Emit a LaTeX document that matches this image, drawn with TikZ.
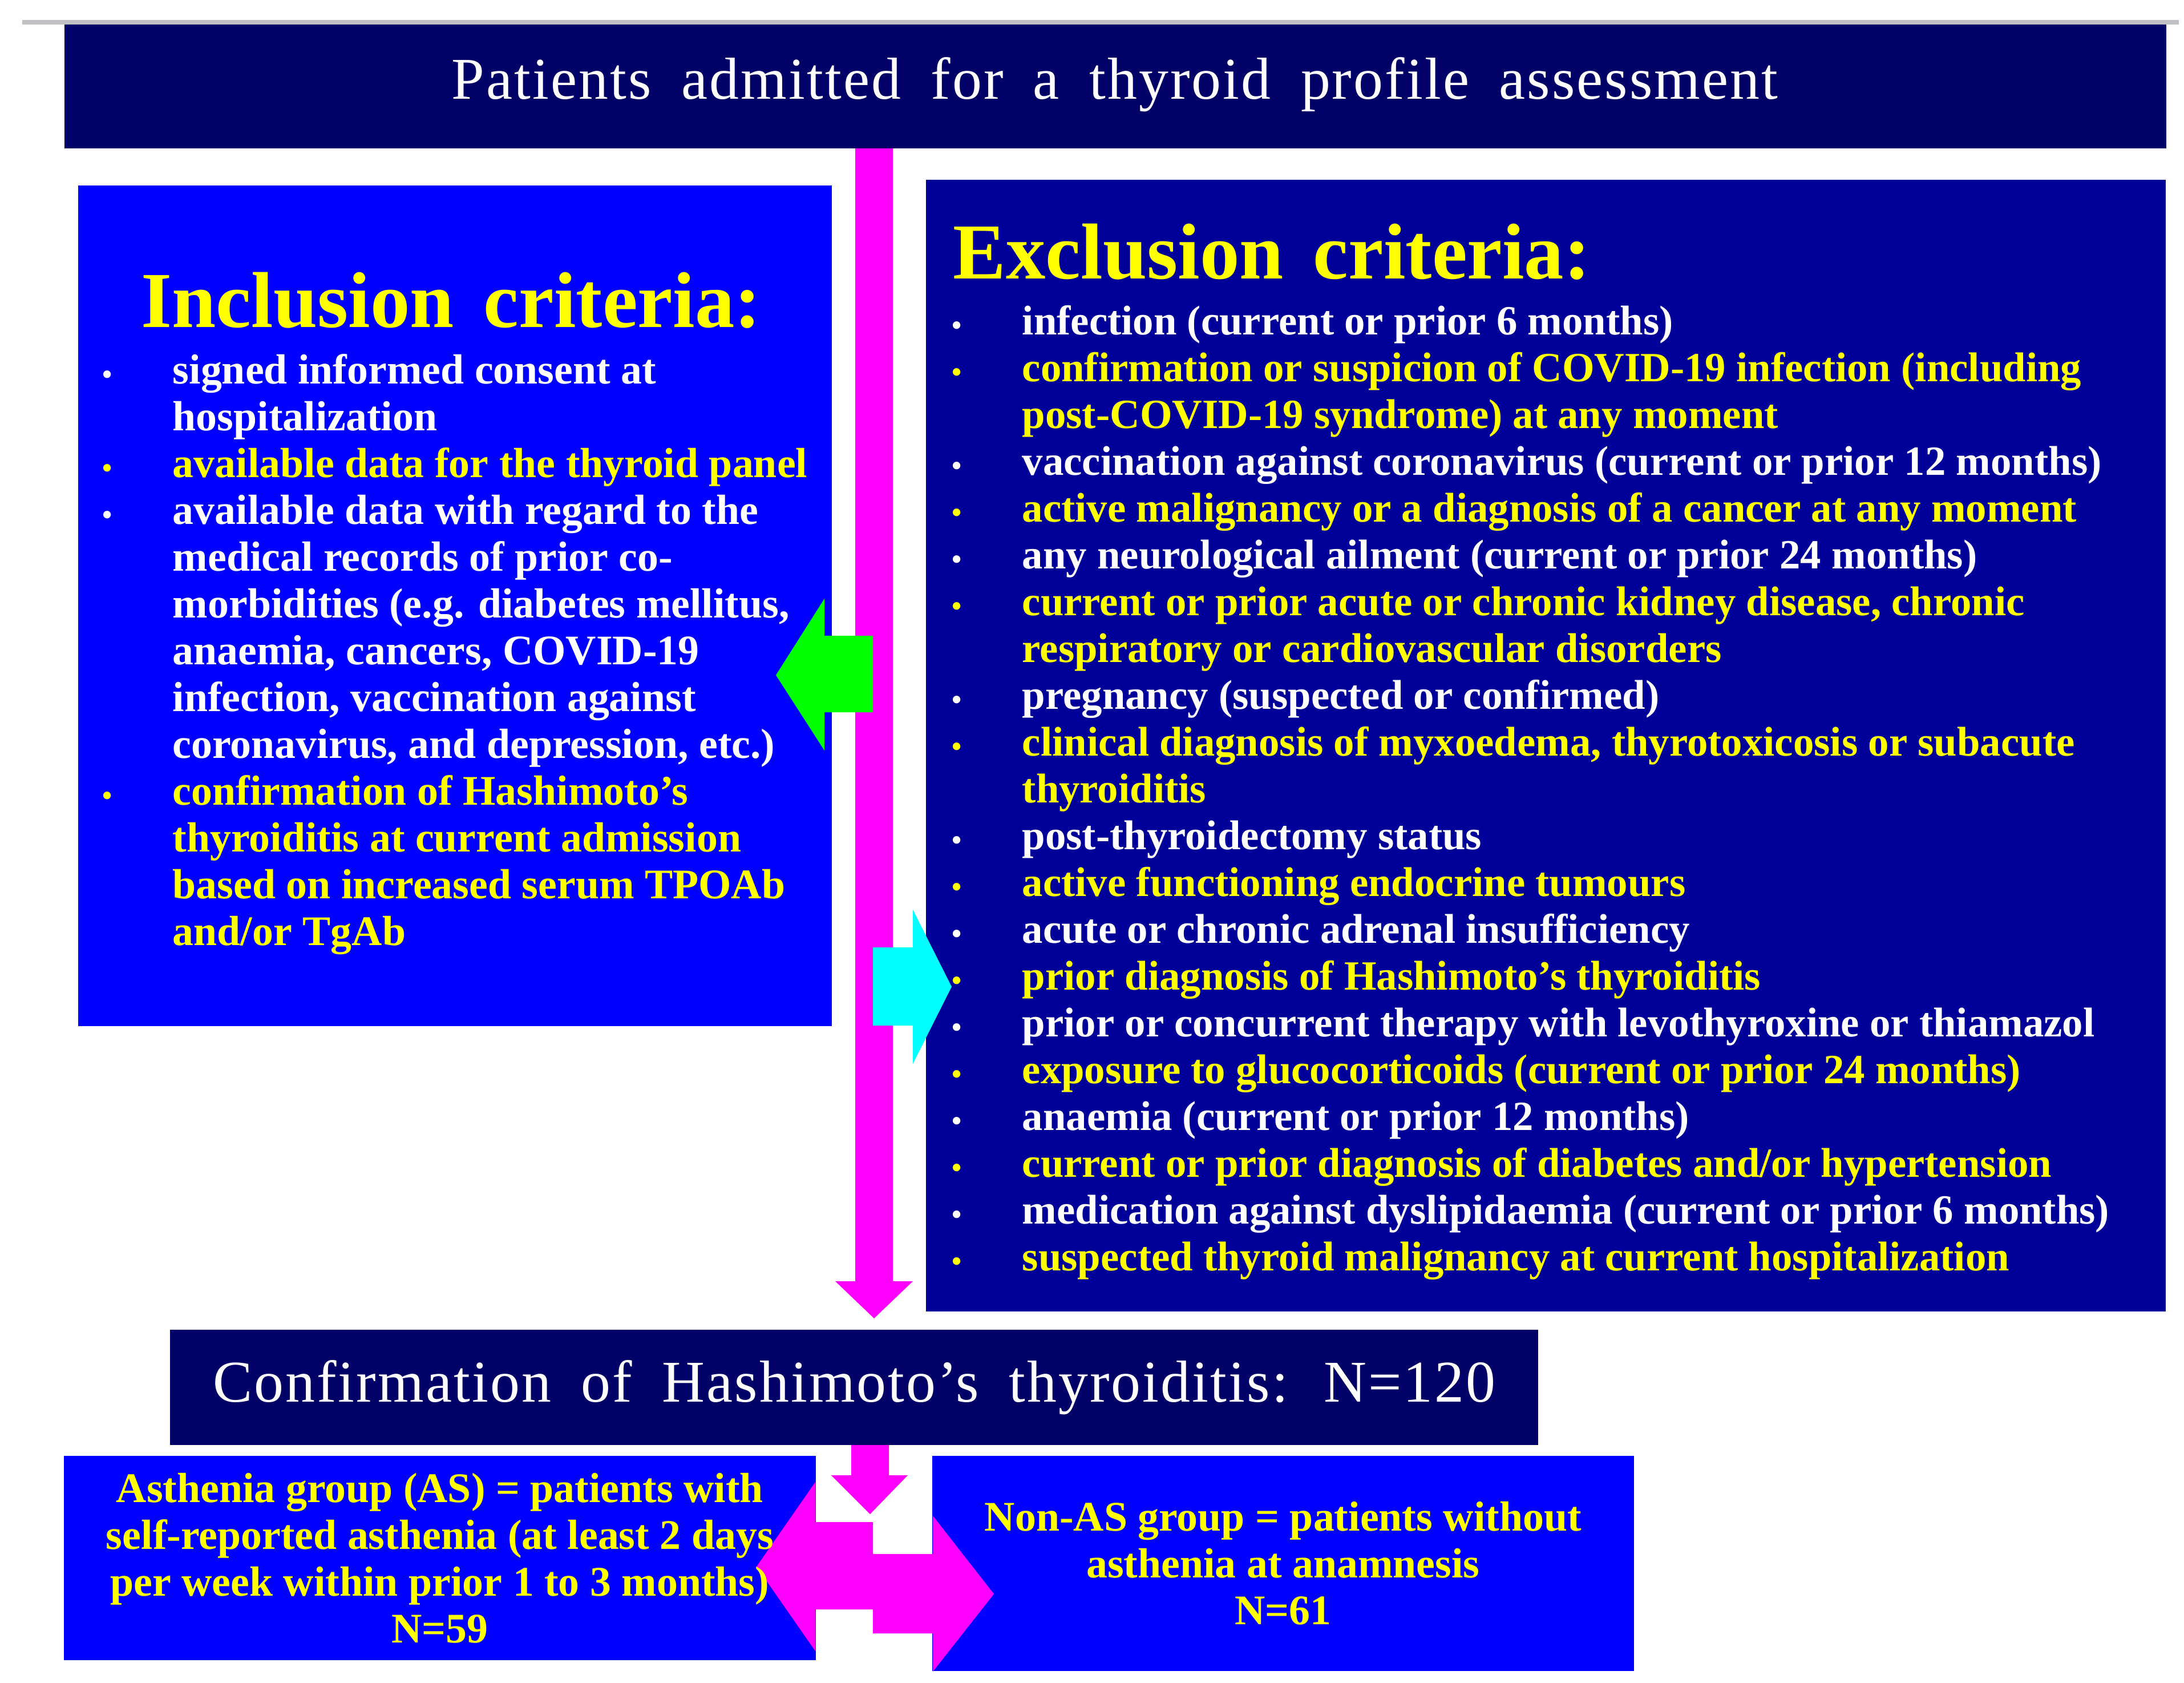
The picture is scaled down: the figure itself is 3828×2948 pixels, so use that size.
\documentclass[tikz,border=0pt]{standalone}
\usepackage{fontspec}
\setmainfont{Liberation Serif}
\newfontfamily\ttlfamily[WordSpace=1.8,LetterSpace=3]{Liberation Serif}
\newfontfamily\hdfamily[WordSpace=1.5]{Liberation Serif}
\definecolor{titlenavy}{RGB}{0,0,102}
\definecolor{exclnavy}{RGB}{0,0,153}
\definecolor{inclblue}{RGB}{0,0,255}
\definecolor{pinkarr}{RGB}{255,0,255}
\definecolor{greenarr}{RGB}{0,255,0}
\definecolor{cyanarr}{RGB}{0,255,255}
\definecolor{ylw}{RGB}{255,255,0}
\definecolor{rulegray}{RGB}{190,192,196}
\newcommand{\ttlfont}{\ttlfamily\fontsize{29.5}{34}\selectfont}
\newcommand{\hdfont}{\hdfamily\fontsize{39.5}{46}\selectfont\bfseries}
\newcommand{\bodyfont}{\fontsize{21}{23.33}\selectfont\bfseries}
\newcommand{\exclfont}{\fontsize{20.7}{23.33}\selectfont\bfseries}
\newcommand{\bul}{{\fontsize{14}{14}\selectfont\textbullet}}
\newcommand{\bw}[1]{\textcolor{white}{\bul} & \textcolor{white}{#1}\\}
\newcommand{\by}[1]{\textcolor{ylw}{\bul} & \textcolor{ylw}{#1}\\}
\newcommand{\cw}[1]{ & \textcolor{white}{#1}\\}
\newcommand{\cy}[1]{ & \textcolor{ylw}{#1}\\}
\begin{document}
\begin{tikzpicture}[x=0.01cm,y=-0.01cm,
  panel/.style={anchor=north west, inner sep=0pt, outer sep=0pt},
  bigtext/.style={text=white, font=\ttlfont},
  heading/.style={anchor=base west, inner sep=0pt, text=ylw, font=\hdfont},
  listtext/.style={anchor=base west, inner sep=0pt, font=\bodyfont},
  grouptext/.style={align=center, inner sep=0pt, text=ylw, font=\bodyfont}]
\useasboundingbox (0,0) rectangle (3828,2948);
\fill[rulegray] (39,35) rectangle (3819,43);
% boxes
\node[panel, fill=titlenavy, minimum width=36.82cm, minimum height=2.17cm] (title) at (113,43) {};
\node[bigtext] (titletxt) at (1954,148) {Patients admitted for a thyroid profile assessment};
\node[panel, fill=inclblue, minimum width=13.20cm, minimum height=14.72cm] (incl) at (137,325) {};
\node[panel, fill=exclnavy, minimum width=21.72cm, minimum height=19.82cm] (excl) at (1623,315) {};
\node[panel, fill=titlenavy, minimum width=23.97cm, minimum height=2.02cm] (conf) at (298,2330) {};
\node[bigtext] (conftxt) at (conf.center) {Confirmation of Hashimoto’s thyroiditis: N=120};
\node[panel, fill=inclblue, minimum width=13.17cm, minimum height=3.58cm] (asth) at (112,2551) {};
\node[panel, fill=inclblue, minimum width=12.29cm, minimum height=3.77cm] (nonas) at (1634,2551) {};
% arrows
\fill[pinkarr] (1499,260) -- (1565,260) -- (1565,2245) -- (1600,2245) -- (1532,2310) -- (1464,2245) -- (1499,2245) -- cycle;
\fill[greenarr] (1530,1114) -- (1445,1114) -- (1445,1049) -- (1360,1183) -- (1445,1315) -- (1445,1248) -- (1530,1248) -- cycle;
\fill[cyanarr] (1530,1660) -- (1600,1660) -- (1600,1594) -- (1668,1729) -- (1600,1864) -- (1600,1797) -- (1530,1797) -- cycle;
\fill[pinkarr] (1492,2532) -- (1558,2532) -- (1558,2585) -- (1591,2585) -- (1525,2653) -- (1457,2585) -- (1492,2585) -- cycle;
\fill[pinkarr] (1530,2667) -- (1429,2667) -- (1429,2597) -- (1326,2745) -- (1429,2893) -- (1429,2820) -- (1530,2820) -- cycle;
\fill[pinkarr] (1530,2723) -- (1635,2723) -- (1635,2656) -- (1742,2793) -- (1635,2929) -- (1635,2862) -- (1530,2862) -- cycle;
% headings
\node[heading] (inclhead) at (247,573) {Inclusion criteria:};
\node[heading] (exclhead) at (1670,488) {Exclusion criteria:};
% inclusion list
\node[listtext] (incllist) at (179,672) {\begin{tabular}[t]{@{}p{1.23cm}@{}l@{}}
\bw{signed informed consent at}
\cw{hospitalization}
\by{available data for the thyroid panel}
\bw{available data with regard to the}
\cw{medical records of prior co-}
\cw{morbidities (e.g. diabetes mellitus,}
\cw{anaemia, cancers, COVID-19}
\cw{infection, vaccination against}
\cw{coronavirus, and depression, etc.)}
\by{confirmation of Hashimoto’s}
\cy{thyroiditis at current admission}
\cy{based on increased serum TPOAb}
\cy{and/or TgAb}
\end{tabular}};
% exclusion list
\node[listtext, font=\exclfont] (excllist) at (1668,586) {\begin{tabular}[t]{@{}p{1.23cm}@{}l@{}}
\bw{infection (current or prior 6 months)}
\by{confirmation or suspicion of COVID-19 infection (including}
\cy{post-COVID-19 syndrome) at any moment}
\bw{vaccination against coronavirus (current or prior 12 months)}
\by{active malignancy or a diagnosis of a cancer at any moment}
\bw{any neurological ailment (current or prior 24 months)}
\by{current or prior acute or chronic kidney disease, chronic}
\cy{respiratory or cardiovascular disorders}
\bw{pregnancy (suspected or confirmed)}
\by{clinical diagnosis of myxoedema, thyrotoxicosis or subacute}
\cy{thyroiditis}
\bw{post-thyroidectomy status}
\by{active functioning endocrine tumours}
\bw{acute or chronic adrenal insufficiency}
\by{prior diagnosis of Hashimoto’s thyroiditis}
\bw{prior or concurrent therapy with levothyroxine or thiamazol}
\by{exposure to glucocorticoids (current or prior 24 months)}
\bw{anaemia (current or prior 12 months)}
\by{current or prior diagnosis of diabetes and/or hypertension}
\bw{medication against dyslipidaemia (current or prior 6 months)}
\by{suspected thyroid malignancy at current hospitalization}
\end{tabular}};
% group texts
\node[grouptext] (asthtxt) at (asth.center) {Asthenia group (AS) = patients with\\self-reported asthenia (at least 2 days\\per week within prior 1 to 3 months)\\N=59};
\node[grouptext] (nonastxt) at (nonas.center) {Non-AS group = patients without\\asthenia at anamnesis\\N=61};
\end{tikzpicture}
\end{document}
